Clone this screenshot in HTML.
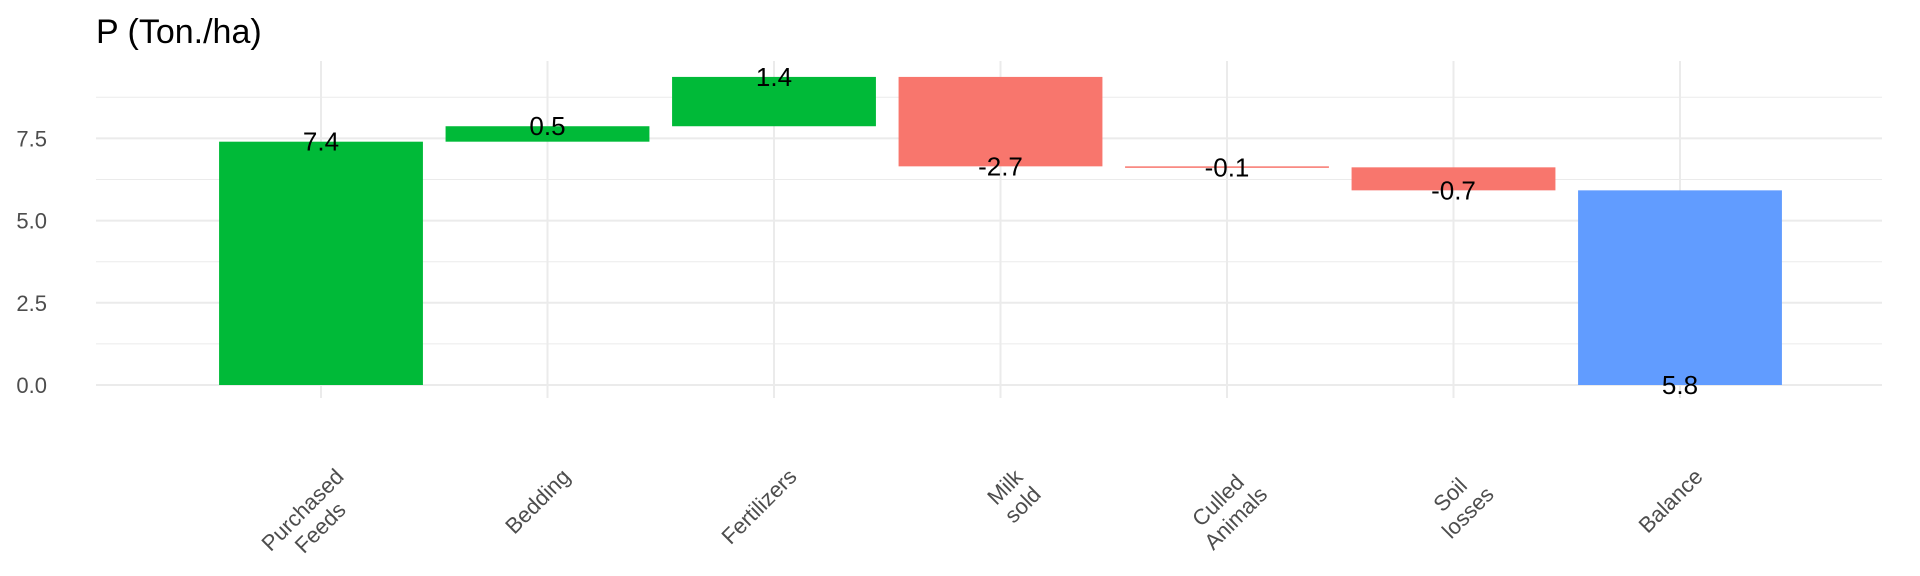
<!DOCTYPE html>
<html><head><meta charset="utf-8">
<style>
html,body{margin:0;padding:0;background:#fff;}
svg{display:block;font-family:"Liberation Sans",Arial,sans-serif;}
</style></head>
<body>
<svg id="chart" width="1920" height="576" viewBox="0 0 1920 576" xmlns="http://www.w3.org/2000/svg">
<rect width="1920" height="576" fill="#fff"/>
<text x="96" y="43" font-size="34" fill="#000">P (Ton./ha)</text>
<g id="grid"></g>
<g id="bars"></g>
<g id="vlabels"></g>
<g id="yticks"></g>
<g id="xticks"></g>
</svg>
<script>
const categories = [["Purchased","Feeds"],["Bedding"],["Fertilizers"],["Milk","sold"],["Culled","Animals"],["Soil","losses"],["Balance"]];
const deltas = [7.4, 0.47, 1.5, -2.72, -0.03, -0.7];
const valueLabels = ["7.4","0.5","1.4","-2.7","-0.1","-0.7","5.8"];
const yTicks = [0, 2.5, 5, 7.5];
const yTickLabels = ["0.0","2.5","5.0","7.5"];
const yMinor = [1.25, 3.75, 6.25, 8.75];

const NS = "http://www.w3.org/2000/svg";
const plotL = 96, plotR = 1882, gridTop = 61, gridBot = 398;
const y0 = 385, perUnit = 32.88;
function yScale(v){ return y0 - v*perUnit; }
const step = 226.5, firstX = 321;
function xScale(i){ return firstX + i*step; }
const barW = step*0.9;
function mk(tag, attrs, parent){ const e=document.createElementNS(NS,tag); for(const k in attrs) e.setAttribute(k,attrs[k]); parent.appendChild(e); return e; }

const grid = document.getElementById('grid');
yMinor.forEach(v=>{
  const l = mk('line',{x1:plotL,x2:plotR,y1:yScale(v),y2:yScale(v),stroke:'#ebebeb','stroke-width':1},grid);
  
  
});
yTicks.forEach(v=>{
  const l = mk('line',{x1:plotL,x2:plotR,y1:yScale(v),y2:yScale(v),stroke:'#ebebeb','stroke-width':2},grid);
  
  
});
categories.forEach((c,i)=>{
  const l = mk('line',{x1:xScale(i),x2:xScale(i),y1:gridTop,y2:gridBot,stroke:'#ebebeb','stroke-width':2},grid);
  
  
});

const bars = document.getElementById('bars');
const vl = document.getElementById('vlabels');
let cum = 0;
const segs = [];
deltas.forEach(d=>{ segs.push([cum, cum+d, d>=0?'#00ba38':'#f8766d']); cum += d; });
segs.push([cum, 0, '#619cff']);
segs.forEach((s,i)=>{
  const top = Math.min(yScale(s[0]),yScale(s[1]));
  const h = Math.max(Math.abs(yScale(s[0])-yScale(s[1])),1.5);
  const r = mk('rect',{x:xScale(i)-barW/2,y:top,width:barW,height:h,fill:s[2]},bars);
  
  
  const t = mk('text',{x:xScale(i),y:yScale(s[1])+9,'font-size':26,'text-anchor':'middle',fill:'#000'},vl);
  t.textContent = valueLabels[i];
  
  
});

const yt = document.getElementById('yticks');
yTicks.forEach((v,i)=>{
  const t = mk('text',{x:47,y:yScale(v)+8,'font-size':22,'text-anchor':'end',fill:'#4d4d4d'},yt);
  t.textContent = yTickLabels[i];
  
  
});

const xt = document.getElementById('xticks');
categories.forEach((lines,i)=>{
  const g = mk('g',{transform:`translate(${xScale(i)+12},466) rotate(-45)`},xt);
  
  
  const ts = lines.map((ln,j)=>{
    const t = mk('text',{x:0,y:17+j*25,'font-size':22,'text-anchor':'middle',fill:'#4d4d4d'},g);
    t.textContent = ln; return t;
  });
  const maxW = Math.max(...ts.map(t=>t.getComputedTextLength()));
  ts.forEach(t=>t.setAttribute('x',-maxW/2));
});
</script>
</body></html>
